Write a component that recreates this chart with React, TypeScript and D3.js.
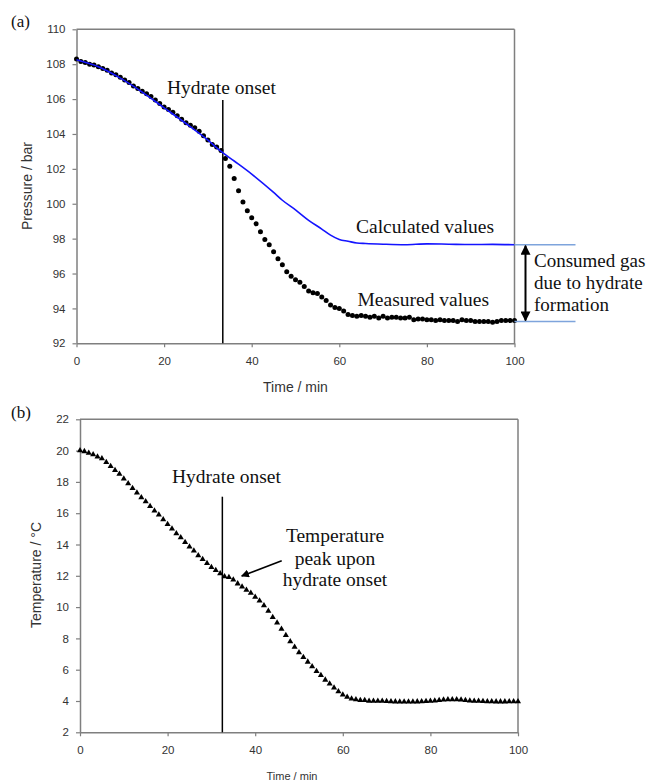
import React, { useEffect, useRef } from 'react';
import * as d3 from 'd3';

// ---------- DATA ----------
const timeMin = [
  0, 1, 2, 3, 4, 5, 6, 7, 8, 9, 10, 11, 12, 13, 14, 15, 16, 17, 18, 19, 20,
  21, 22, 23, 24, 25, 26, 27, 28, 29, 30, 31, 32, 33, 34, 35, 36, 37, 38, 39, 40,
  41, 42, 43, 44, 45, 46, 47, 48, 49, 50, 51, 52, 53, 54, 55, 56, 57, 58, 59, 60,
  61, 62, 63, 64, 65, 66, 67, 68, 69, 70, 71, 72, 73, 74, 75, 76, 77, 78, 79, 80,
  81, 82, 83, 84, 85, 86, 87, 88, 89, 90, 91, 92, 93, 94, 95, 96, 97, 98, 99, 100,
];

const measuredPressure = [
  108.3, 108.15, 108.1, 108.0, 107.95, 107.85, 107.75, 107.65, 107.5, 107.4, 107.25,
  107.1, 106.95, 106.75, 106.6, 106.45, 106.3, 106.15, 105.95, 105.75, 105.55,
  105.4, 105.25, 105.05, 104.85, 104.65, 104.5, 104.35, 104.15, 103.9, 103.65,
  103.4, 103.25, 103.05, 102.6, 102.15, 101.45, 100.75, 100.1, 99.6, 99.2,
  98.85, 98.4, 97.95, 97.65, 97.25, 96.85, 96.5, 96.1, 95.85, 95.65,
  95.5, 95.25, 95.0, 94.9, 94.85, 94.65, 94.45, 94.2, 94.05, 94.0,
  93.85, 93.65, 93.6, 93.55, 93.6, 93.55, 93.5, 93.55, 93.45, 93.55,
  93.45, 93.5, 93.5, 93.45, 93.45, 93.5, 93.35, 93.4, 93.4, 93.35,
  93.35, 93.3, 93.35, 93.3, 93.3, 93.3, 93.25, 93.35, 93.3, 93.3,
  93.25, 93.25, 93.25, 93.25, 93.2, 93.25, 93.3, 93.3, 93.3, 93.3,
];

const calcTime = [0, 5, 10, 15, 20, 25, 30, 33, 36, 40, 45, 47, 50, 53, 56, 58, 60, 62, 64, 66, 70, 75, 80, 85, 90, 95, 100];
const calcPressure = [
  108.25, 107.85, 107.2, 106.4, 105.5, 104.6, 103.65, 103.0, 102.45, 101.7, 100.65,
  100.2, 99.65, 99.05, 98.55, 98.2, 97.95, 97.85, 97.75, 97.72, 97.68, 97.65,
  97.7, 97.68, 97.66, 97.67, 97.65,
];

const temperature = [
  20.0, 19.95, 19.85, 19.75, 19.6, 19.5, 19.25, 19.0, 18.75, 18.5, 18.2,
  17.9, 17.6, 17.3, 17.0, 16.75, 16.45, 16.15, 15.9, 15.6, 15.3,
  15.0, 14.7, 14.45, 14.15, 13.85, 13.6, 13.3, 13.05, 12.8, 12.55,
  12.35, 12.15, 11.95, 11.9, 11.75, 11.5, 11.3, 11.1, 10.9, 10.65,
  10.4, 10.1, 9.75, 9.35, 9.0, 8.6, 8.2, 7.8, 7.45, 7.1,
  6.8, 6.5, 6.2, 5.9, 5.65, 5.35, 5.1, 4.85, 4.6, 4.4,
  4.25, 4.15, 4.1, 4.05, 4.05, 4.0, 4.0, 4.0, 4.0, 3.98,
  3.97, 3.96, 3.95, 3.95, 3.95, 3.95, 3.96, 3.97, 3.98, 4.0,
  4.02, 4.05, 4.08, 4.1, 4.1, 4.1, 4.08, 4.05, 4.02, 4.0,
  4.0, 3.98, 3.97, 3.97, 3.96, 3.96, 3.96, 3.97, 3.97, 3.97,
];

const xTicks = [0, 20, 40, 60, 80, 100];
const pressureTicks = [92, 94, 96, 98, 100, 102, 104, 106, 108, 110];
const tempTicks = [2, 4, 6, 8, 10, 12, 14, 16, 18, 20, 22];

const onsetA = 33.4;
const onsetB = 32.5;
const calcPlateau = 97.65;
const measPlateau = 93.25;

// ---------- LAYOUT ----------
const W = 650;
const H = 781;
const A = { left: 76.5, right: 514.5, top: 29.3, bottom: 343.3 };
const B = { left: 80, right: 518, top: 419.3, bottom: 732.3 };
const sans = '"Liberation Sans", Arial, sans-serif';
const serif = '"Liberation Serif", "Times New Roman", serif';
const axisColor = '#7f7f7f';
const tickTextColor = '#333';

export default function App() {
  const ref = useRef<SVGSVGElement | null>(null);

  useEffect(() => {
    const svg = d3.select(ref.current);
    svg.selectAll('*').remove();

    const defs = svg.append('defs');
    defs.append('marker')
      .attr('id', 'ah')
      .attr('viewBox', '0 0 10 10')
      .attr('refX', 9).attr('refY', 5)
      .attr('markerWidth', 5).attr('markerHeight', 5)
      .attr('markerUnits', 'strokeWidth')
      .attr('orient', 'auto-start-reverse')
      .append('path').attr('d', 'M0,0 L10,5 L0,10 z').attr('fill', '#000');

    const xA = d3.scaleLinear().domain([0, 100]).range([A.left, A.right]);
    const yA = d3.scaleLinear().domain([92, 110]).range([A.bottom, A.top]);
    const xB = d3.scaleLinear().domain([0, 100]).range([B.left, B.right]);
    const yB = d3.scaleLinear().domain([2, 22]).range([B.bottom, B.top]);

    const drawFrame = (g: any, L: any, x: any, y: any, yTicks: number[]) => {
      g.append('line').attr('x1', L.left).attr('x2', L.right).attr('y1', L.top).attr('y2', L.top)
        .attr('stroke', axisColor).attr('stroke-width', 1.5);
      g.append('line').attr('x1', L.right).attr('x2', L.right).attr('y1', L.top).attr('y2', L.bottom)
        .attr('stroke', axisColor).attr('stroke-width', 1.5);
      const ax = g.append('g').attr('transform', `translate(0,${L.bottom})`)
        .call(d3.axisBottom(x).tickValues(xTicks).tickSize(4).tickSizeOuter(0).tickPadding(10));
      const ay = g.append('g').attr('transform', `translate(${L.left},0)`)
        .call(d3.axisLeft(y).tickValues(yTicks).tickSize(4).tickSizeOuter(0).tickPadding(7));
      [ax, ay].forEach((a: any) => {
        a.select('.domain').attr('stroke', axisColor).attr('stroke-width', 1.5);
        a.selectAll('line').attr('stroke', axisColor).attr('stroke-width', 1.2);
        a.selectAll('text').attr('fill', tickTextColor).attr('font-family', sans).attr('font-size', 11.5);
      });
    };

    const serifText = (g: any, x: number, y: number, s: string, size = 19.5, anchor = 'start') =>
      g.append('text').attr('x', x).attr('y', y).attr('font-family', serif)
        .attr('font-size', size).attr('fill', '#111').attr('text-anchor', anchor).text(s);

    // ---------- Panel (a) ----------
    const gA = svg.append('g');
    drawFrame(gA, A, xA, yA, pressureTicks);

    gA.append('line').attr('x1', xA(onsetA)).attr('x2', xA(onsetA))
      .attr('y1', 100).attr('y2', A.bottom).attr('stroke', '#000').attr('stroke-width', 1.5);

    // measured points
    gA.append('g').selectAll('circle').data(measuredPressure).join('circle')
      .attr('cx', (_: any, i: number) => xA(timeMin[i]))
      .attr('cy', (d: number) => yA(d))
      .attr('r', 2.5).attr('fill', '#000');

    // calculated line (on top of the points)
    const calcLine = d3.line<number>()
      .x((_, i) => xA(calcTime[i]))
      .y((d) => yA(d))
      .curve(d3.curveMonotoneX);
    gA.append('path').attr('d', calcLine(calcPressure) as string)
      .attr('fill', 'none').attr('stroke', '#1414ff').attr('stroke-width', 1.6);

    [calcPlateau, measPlateau].forEach((v) => {
      gA.append('line').attr('x1', xA(100)).attr('x2', xA(100) + 61)
        .attr('y1', yA(v)).attr('y2', yA(v))
        .attr('stroke', '#7ea4dc').attr('stroke-width', 1.6);
    });
    gA.append('line').attr('x1', xA(100) + 11).attr('x2', xA(100) + 11)
      .attr('y1', yA(calcPlateau) + 1).attr('y2', yA(measPlateau) - 1)
      .attr('stroke', '#000').attr('stroke-width', 2)
      .attr('marker-start', 'url(#ah)').attr('marker-end', 'url(#ah)');

    serifText(gA, 11, 27, '(a)', 17);
    serifText(gA, 167, 94, 'Hydrate onset');
    serifText(gA, 356, 233, 'Calculated values');
    serifText(gA, 357.5, 306, 'Measured values');
    serifText(gA, 534, 266.7, 'Consumed gas', 19);
    serifText(gA, 534, 289, 'due to hydrate', 19);
    serifText(gA, 534, 311, 'formation', 19);

    gA.append('text').attr('transform', `translate(31.5,186) rotate(-90)`)
      .attr('text-anchor', 'middle').attr('font-family', sans).attr('font-size', 14)
      .attr('fill', tickTextColor).text('Pressure / bar');
    gA.append('text').attr('x', (A.left + A.right) / 2).attr('y', 392)
      .attr('text-anchor', 'middle').attr('font-family', sans).attr('font-size', 14)
      .attr('fill', tickTextColor).text('Time / min');

    // ---------- Panel (b) ----------
    const gB = svg.append('g');
    drawFrame(gB, B, xB, yB, tempTicks);

    gB.append('line').attr('x1', xB(onsetB)).attr('x2', xB(onsetB))
      .attr('y1', 496.7).attr('y2', B.bottom).attr('stroke', '#000').attr('stroke-width', 1.5);

    const tri = d3.symbol().type(d3.symbolTriangle).size(16);
    gB.append('g').selectAll('path').data(temperature).join('path')
      .attr('d', tri() as string)
      .attr('transform', (d: number, i: number) => `translate(${xB(timeMin[i])},${yB(d)})`)
      .attr('fill', '#000');

    serifText(gB, 11, 418, '(b)', 17);
    serifText(gB, 172, 483, 'Hydrate onset');
    serifText(gB, 335, 541.7, 'Temperature', 19.5, 'middle');
    serifText(gB, 335, 564.5, 'peak upon', 19.5, 'middle');
    serifText(gB, 335, 586, 'hydrate onset', 19.5, 'middle');

    gB.append('line').attr('x1', 281.7).attr('y1', 560.7)
      .attr('x2', 241.7).attr('y2', 576)
      .attr('stroke', '#000').attr('stroke-width', 1.6).attr('marker-end', 'url(#ah)');

    gB.append('text').attr('transform', `translate(40.5,575) rotate(-90)`)
      .attr('text-anchor', 'middle').attr('font-family', sans).attr('font-size', 14)
      .attr('fill', tickTextColor).text('Temperature / °C');
    gB.append('text').attr('x', (B.left + B.right) / 2 - 7).attr('y', 779.5)
      .attr('text-anchor', 'middle').attr('font-family', sans).attr('font-size', 11)
      .attr('fill', tickTextColor).text('Time / min');
  }, []);

  return (
    <svg
      ref={ref}
      width={W}
      height={H}
      style={{ position: 'absolute', left: 0, top: 0, background: '#fff' }}
    />
  );
}
